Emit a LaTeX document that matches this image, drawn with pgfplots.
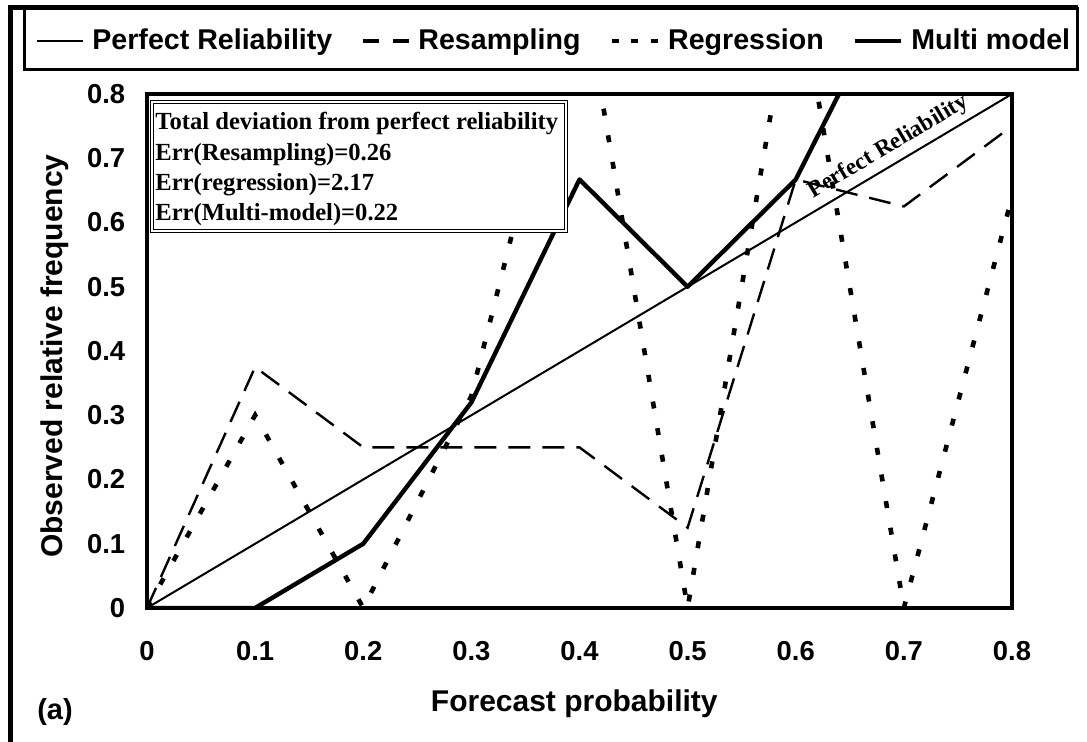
\documentclass[border=0pt]{standalone}
\usepackage{fontspec}
\setmainfont{Liberation Sans}
\newfontfamily\timesf{Liberation Serif}
\usepackage{pgfplots}
\pgfplotsset{compat=1.18}
\begin{document}
\begin{tikzpicture}
\begin{axis}[
  at={(0pt,0pt)}, anchor=south west,
  scale only axis, width=432.5pt, height=257pt,
  xmin=0, xmax=0.8, ymin=0, ymax=0.8,
  xtick={0,0.1,0.2,0.3,0.4,0.5,0.6,0.7,0.8},
  xticklabels={0,0.1,0.2,0.3,0.4,0.5,0.6,0.7,0.8},
  ytick={0,0.1,0.2,0.3,0.4,0.5,0.6,0.7,0.8},
  yticklabels={0,0.1,0.2,0.3,0.4,0.5,0.6,0.7,0.8},
  major tick length=0pt,
  axis line style={line width=2.2pt},
  tick label style={font=\fontsize{13.7}{16}\selectfont\bfseries},
  xticklabel style={yshift=-13pt},
  yticklabel style={xshift=-7.4pt},
  xlabel={Forecast probability},
  ylabel={Observed relative frequency},
  label style={font=\fontsize{15}{18}\selectfont\bfseries},
  xlabel style={at={(axis description cs:0.494,-0.187)}, anchor=center},
  ylabel style={at={(axis description cs:-0.1064,0.49)}, anchor=center},
  legend columns=4,
  legend style={at={(0.472,1.103)}, anchor=center, draw=none, fill=none,
    font=\fontsize{14.3}{17}\selectfont\bfseries,
    /tikz/every even column/.append style={column sep=12.5pt}},
]
\addplot[line width=1pt,
  legend image code/.code={\draw[line width=1pt] (0pt,0pt) -- (23pt,0pt); \path (25pt,0pt);}]
  coordinates {(0,0) (0.8,0.8)};
\addlegendentry{Perfect Reliability}
\addplot[line width=1.2pt, dash pattern=on 11pt off 6pt,
  legend image code/.code={\draw[line width=1.8pt, dash pattern=on 8pt off 7pt] (0pt,0pt) -- (23pt,0pt); \path (25pt,0pt);}]
  coordinates {
  (0,0) (0.1,0.375) (0.2,0.25) (0.3,0.25) (0.4,0.25) (0.5,0.125) (0.6,0.667) (0.7,0.625) (0.8,0.75)};
\addlegendentry{Resampling}
\addplot[line width=2.3pt, dash pattern=on 3.5pt off 10pt,
  legend image code/.code={\draw[line width=2.3pt, dash pattern=on 3.5pt off 6.25pt] (0pt,0pt) -- (23pt,0pt); \path (25pt,0pt);}]
  coordinates {
  (0,0) (0.1,0.3) (0.2,0) (0.3,0.33) (0.4,1.0) (0.5,0) (0.6,1.0) (0.7,0) (0.8,0.64)};
\addlegendentry{Regression}
\addplot[line width=2.2pt, line join=round,
  legend image code/.code={\draw[line width=2.2pt] (0pt,0pt) -- (23pt,0pt); \path (25pt,0pt);}]
  coordinates {
  (0,0) (0.1,0) (0.2,0.1) (0.3,0.32) (0.4,0.667) (0.5,0.5) (0.6,0.667) (0.7,1.0) (0.8,1.0)};
\addlegendentry{Multi model}
\node[rotate=30.75, font=\timesf\bfseries\fontsize{11.7}{14}\selectfont] at (axis cs:0.686,0.7175) {Perfect Reliability};
\end{axis}
\draw[line width=0.6pt, double, double distance=1pt, fill=white] (2.6pt,188.6pt) rectangle (209.4pt,252.9pt);
\begin{scope}[every node/.style={anchor=base west, inner sep=0pt, font=\timesf\bfseries\fontsize{12.3}{15}\selectfont}]
\node at (4pt,239pt) {Total deviation from perfect reliability};
\node at (4pt,223.5pt) {Err(Resampling)=0.26};
\node at (4pt,208.5pt) {Err(regression)=2.17};
\node at (4pt,193.5pt) {Err(Multi-model)=0.22};
\end{scope}
\draw[line width=2.5pt] (-68.25pt,-70pt) -- (-68.25pt,300.25pt) -- (465.5pt,300.25pt);
\draw[line width=1.5pt] (-61pt,300.25pt) -- (-61pt,269pt) -- (465pt,269pt) -- (465pt,300.25pt);
\node[font=\fontsize{14.5}{17}\selectfont\bfseries] at (-46pt,-52pt) {(a)};
\pgfresetboundingbox
\path[use as bounding box] (-73.5pt,-67pt) rectangle (470pt,304pt);
\end{tikzpicture}
\end{document}
